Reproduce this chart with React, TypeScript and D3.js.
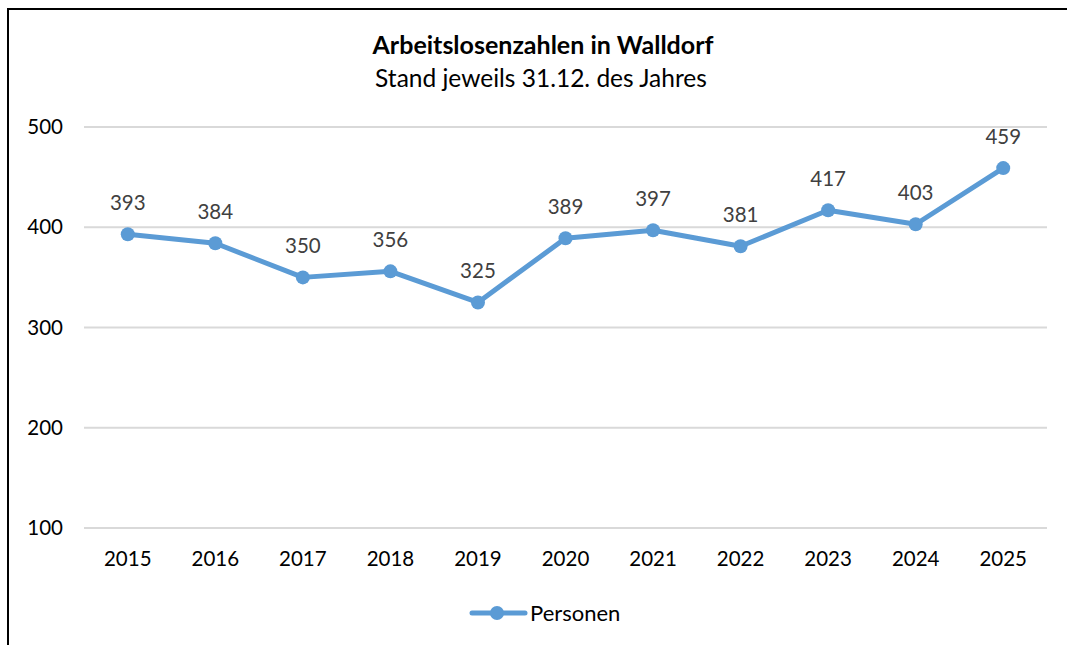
import React from "react";
import * as d3 from "d3";

const years = ["2015","2016","2017","2018","2019","2020","2021","2022","2023","2024","2025"];
const personen = [393,384,350,356,325,389,397,381,417,403,459];
const yTicks = [100,200,300,400,500];
const title = "Arbeitslosenzahlen in Walldorf";
const subtitle = "Stand jeweils 31.12. des Jahres";
const seriesName = "Personen";

const W = 1067, H = 645;
const FONT = "Lato, Carlito, Calibri, sans-serif";
const BLUE = "#5B9BD5";

export default function App() {
  const x = d3.scaleBand<string>().domain(years).range([84, 1047]);
  const y = d3.scaleLinear().domain([100, 500]).range([528, 127]);
  const cx = (d: string) => (x(d) as number) + x.bandwidth() / 2;
  const line = d3.line<number>().x((_, i) => cx(years[i])).y(v => y(v));
  return (
    <svg width={W} height={H} style={{ position: "absolute", left: 0, top: 0, background: "#fff" }}>
      <rect x={0} y={0} width={W} height={H} fill="#fff" />
      <rect x={8} y={9} width={W + 20} height={H + 20} fill="none" stroke="#000" strokeWidth={2} />
      <text x={543} y={54} textAnchor="middle" fontFamily={FONT} fontWeight="bold" fontSize={25} fill="#000">{title}</text>
      <text x={541} y={87} textAnchor="middle" fontFamily={FONT} fontSize={24.5} fill="#000">{subtitle}</text>
      {yTicks.map(t => (
        <g key={t}>
          <line x1={84} x2={1047} y1={y(t)} y2={y(t)} stroke="#d9d9d9" strokeWidth={2} />
          <text x={63} y={y(t) + 7} textAnchor="end" fontFamily={FONT} fontSize={20.5} fill="#000">{t}</text>
        </g>
      ))}
      {years.map(yr => (
        <text key={yr} x={cx(yr)} y={566} textAnchor="middle" fontFamily={FONT} fontSize={20.5} fill="#000">{yr}</text>
      ))}
      <path d={line(personen) || ""} fill="none" stroke={BLUE} strokeWidth={5} strokeLinejoin="round" />
      {personen.map((v, i) => (
        <g key={i}>
          <circle cx={cx(years[i])} cy={y(v)} r={7} fill={BLUE} />
          <text x={cx(years[i])} y={y(v) - 24} textAnchor="middle" fontFamily={FONT} fontSize={20.5} fill="#404040">{v}</text>
        </g>
      ))}
      <line x1={472} x2={525} y1={613} y2={613} stroke={BLUE} strokeWidth={5} strokeLinecap="round" />
      <circle cx={497} cy={613} r={7} fill={BLUE} />
      <text x={530} y={621} fontFamily={FONT} fontSize={22} fill="#000">{seriesName}</text>
    </svg>
  );
}
